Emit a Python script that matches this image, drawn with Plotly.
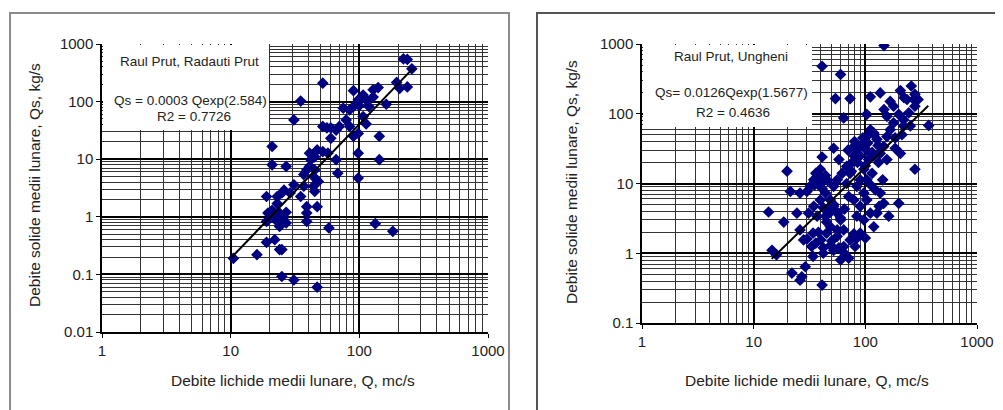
import plotly.graph_objects as go

# page offset: the html body has an 8px margin
OFF = 8
W, H = 1003 - OFF, 410 - OFF

# ---------------- data ----------------
left_q = [220, 236, 256, 195, 206, 236, 140, 128, 107, 113, 90, 100, 90, 75, 162, 107, 113, 98, 90, 143,
          98, 143, 98, 84, 79, 70, 66, 60, 56, 52, 60, 66, 68, 57, 52, 47, 45, 42, 41, 39,
          37, 45, 44, 48, 44, 45, 47, 39, 39, 39, 58, 133, 182, 52, 35, 31, 27, 21, 21, 19,
          31, 29, 35, 26, 25, 23, 23, 21, 19.5, 21.5, 24, 27, 25.5, 23, 27, 24, 19, 22, 19, 25,
          24, 16, 10.5, 25, 31, 47, 37, 41, 84, 119, 98, 128]
left_qs = [550, 540, 370, 215, 170, 180, 175, 160, 130, 107, 155, 85, 82, 77, 90, 55, 41, 28, 25, 25,
           12.7, 9.8, 4.7, 37, 48, 37, 32, 23, 35, 37, 35, 9.8, 5.7, 12.7, 13.5, 14.5, 11, 9.8, 7.5, 6.5,
           5.4, 6.5, 5.0, 4.1, 3.4, 2.75, 1.5, 1.5, 1.16, 0.83, 0.64, 0.76, 0.56, 209, 102, 48, 7.5, 16.6, 8.0, 2.25,
           3.6, 2.6, 2.25, 2.9, 2.6, 2.25, 1.7, 1.3, 1.16, 1.0, 1.16, 1.2, 0.95, 0.83, 0.78, 0.68, 0.83, 0.40, 0.36, 0.27,
           0.27, 0.22, 0.19, 0.092, 0.08, 0.06, 3.4, 12.7, 72, 82, 107, 120]

right_q = [147, 41, 60, 54, 73, 64, 111, 136, 206, 258, 278, 222, 167, 103, 147, 179, 199, 156, 297, 369,
           278, 245, 220, 213, 185, 206, 278, 199, 162, 133, 136, 143, 156, 136, 127, 119, 111, 103, 97, 90,
           84, 79, 76, 73, 68, 71, 79, 90, 97, 84, 79, 73, 84, 100, 71, 60, 64, 52, 49, 42,
           40, 34, 33, 34, 29, 27, 26, 22, 41, 16, 14.6, 13.6, 18.6, 19.9, 21.3, 24.4, 26, 28, 26, 30,
           32, 34.5, 37, 39.5, 41, 38, 42, 44, 39.5, 34.5, 31, 37, 44, 47, 52, 56, 60, 48.6, 56, 45,
           64, 56, 48.6, 52, 56, 62, 68, 58, 52, 79, 90, 103, 107, 97, 115, 119, 131, 146, 156, 167,
           179, 185, 103, 111, 123, 90, 84, 97, 103, 111, 119, 90, 81, 127, 146, 220, 253, 236, 271,
           36, 40, 44, 35, 46, 41, 70, 80, 95, 105, 120, 85, 100, 115, 130, 75,
           42, 48, 55, 60, 45, 65, 52, 30, 36, 42, 50, 58, 65, 38]
right_qs = [950, 480, 366, 165, 165, 87, 175, 199, 215, 250, 190, 170, 150, 98, 115, 128, 98, 92, 160, 68,
            128, 103, 82, 50, 32, 27, 16, 5.2, 3.4, 4.7, 7.3, 11.3, 22, 27, 43, 53, 59, 47, 38, 34,
            32, 25, 20, 14, 10, 6.5, 5.8, 4.7, 3.0, 3.4, 1.9, 1.55, 1.65, 1.65, 0.85, 0.8, 1.25, 1.1, 1.3, 1.2,
            1.55, 1.94, 1.25, 0.9, 0.64, 0.46, 0.41, 0.52, 0.35, 0.95, 1.1, 3.9, 2.8, 15, 7.7, 3.76, 2.16, 1.55, 7.3, 7.7,
            9.1, 11.3, 12.5, 16, 24, 10, 10.7, 7.3, 5.8, 4.7, 3.76, 3.4, 3.4, 4.2, 4.7, 3.76, 3.0, 2.4, 2.16, 1.94,
            2.16, 1.75, 5.8, 9.1, 11.3, 14, 17.6, 22, 32, 34, 25, 30, 22, 16, 14, 25, 20, 34, 47, 59,
            74, 45, 11.3, 9.6, 8.1, 11.3, 9.1, 7.3, 5.8, 3.76, 2.4, 1.94, 1.25, 3.76, 5.2, 67, 67, 160, 160,
            14, 12, 13, 9.5, 11, 8.5, 30, 40, 45, 38, 50, 20, 18, 28, 35, 15,
            4.5, 3.8, 4.0, 3.2, 2.8, 4.3, 5.0, 1.6, 1.4, 1.0, 1.5, 1.2, 1.0, 2.0]

# trend lines (end points)
left_trend_q = [10, 262]
left_trend_qs = [0.19, 381]
right_trend_q = [14.5, 366]
right_trend_qs = [0.83, 130]

x_tickvals = [1, 10, 100, 1000]
x_ticktext = ["1", "10", "100", "1000"]
left_y_tickvals = [0.01, 0.1, 1, 10, 100, 1000]
left_y_ticktext = ["0.01", "0.1", "1", "10", "100", "1000"]
right_y_tickvals = [0.1, 1, 10, 100, 1000]
right_y_ticktext = ["0.1", "1", "10", "100", "1000"]

left_title = "Raul Prut, Radauti Prut"
left_eq = "Qs = 0.0003 Qexp(2.584)"
left_r2 = "R2 = 0.7726"
right_title = "Raul Prut, Ungheni"
right_eq = "Qs= 0.0126Qexp(1.5677)"
right_r2 = "R2 = 0.4636"
x_label = "Debite lichide medii lunare, Q, mc/s"
y_label = "Debite solide medii lunare, Qs, kg/s"

# ---------------- figure ----------------
FONT = "Liberation Sans, Arial, sans-serif"
NAVY = "#000080"
TXT = "#222222"


def px(x):
    return (x - OFF) / W


def py(y):
    return 1 - (y - OFF) / H


fig = go.Figure()

fig.add_trace(go.Scatter(x=left_q, y=left_qs, mode="markers", xaxis="x", yaxis="y",
                         marker=dict(symbol="diamond", size=9, color=NAVY), showlegend=False))
fig.add_trace(go.Scatter(x=left_trend_q, y=left_trend_qs, mode="lines", xaxis="x", yaxis="y",
                         line=dict(color="black", width=2), showlegend=False))
fig.add_trace(go.Scatter(x=right_q, y=right_qs, mode="markers", xaxis="x2", yaxis="y2",
                         marker=dict(symbol="diamond", size=9, color=NAVY), showlegend=False))
fig.add_trace(go.Scatter(x=right_trend_q, y=right_trend_qs, mode="lines", xaxis="x2", yaxis="y2",
                         line=dict(color="black", width=2), showlegend=False))

axis_common = dict(
    type="log", showgrid=True, gridcolor="black", gridwidth=2,
    showline=True, linecolor="black", linewidth=1.5,
    ticks="outside", ticklen=4, tickcolor="black",
    tickfont=dict(family=FONT, size=15, color=TXT),
    zeroline=False, automargin=False,
    minor=dict(dtick="D1", showgrid=True, gridcolor="#333", gridwidth=1, ticks=""),
)

fig.update_layout(
    width=W, height=H,
    margin=dict(l=0, r=0, t=0, b=0, autoexpand=False),
    paper_bgcolor="white", plot_bgcolor="white",
    xaxis=dict(axis_common, domain=[px(102), px(488)], range=[0, 3], anchor="y",
               tickvals=x_tickvals, ticktext=x_ticktext),
    yaxis=dict(axis_common, domain=[py(332), py(44)], range=[-2, 3], anchor="x",
               tickvals=left_y_tickvals, ticktext=left_y_ticktext),
    xaxis2=dict(axis_common, domain=[px(642), px(977)], range=[0, 3], anchor="y2",
                tickvals=x_tickvals, ticktext=x_ticktext),
    yaxis2=dict(axis_common, domain=[py(323), py(44)], range=[-1, 3], anchor="x2",
                tickvals=right_y_tickvals, ticktext=right_y_ticktext),
)

shapes = [
    # text boxes covering the grid
    dict(type="rect", xref="paper", yref="paper", x0=px(103), x1=px(269), y0=py(130), y1=py(45),
         fillcolor="white", line=dict(width=0), layer="above"),
    dict(type="rect", xref="paper", yref="paper", x0=px(643), x1=px(812), y0=py(127), y1=py(45),
         fillcolor="white", line=dict(width=0), layer="above"),
    # gap between panels
    dict(type="rect", xref="paper", yref="paper", x0=px(509), x1=px(537), y0=0, y1=1,
         fillcolor="white", line=dict(width=0), layer="above"),
    # panel frames
    dict(type="rect", xref="paper", yref="paper", x0=px(10), x1=px(509), y0=py(420), y1=py(13),
         line=dict(color="#8c8c8c", width=2), layer="above"),
    dict(type="rect", xref="paper", yref="paper", x0=px(537), x1=px(1012), y0=py(420), y1=py(13),
         line=dict(color="#555555", width=2), layer="above"),
]
fig.update_layout(shapes=shapes)

anns = [
    (left_title, 189, 62), (left_eq, 190, 100), (left_r2, 194, 117),
    (right_title, 731, 57), (right_eq, 731, 93), (right_r2, 733, 113),
]
for t, x, y in anns:
    fig.add_annotation(text=t, xref="paper", yref="paper", x=px(x), y=py(y),
                       showarrow=False, xanchor="center", yanchor="middle",
                       font=dict(family=FONT, size=13.5, color=TXT))

title_font = dict(family=FONT, size=15.5, color=TXT)
for x, y in [(293, 380), (807, 380)]:
    fig.add_annotation(text=x_label, xref="paper", yref="paper", x=px(x), y=py(y),
                       xanchor="center", yanchor="middle", showarrow=False, font=title_font)
for x, y in [(34, 185), (572, 182)]:
    fig.add_annotation(text=y_label, xref="paper", yref="paper", x=px(x), y=py(y), textangle=-90,
                       xanchor="center", yanchor="middle", showarrow=False, font=title_font)

fig.write_html("out.html")
